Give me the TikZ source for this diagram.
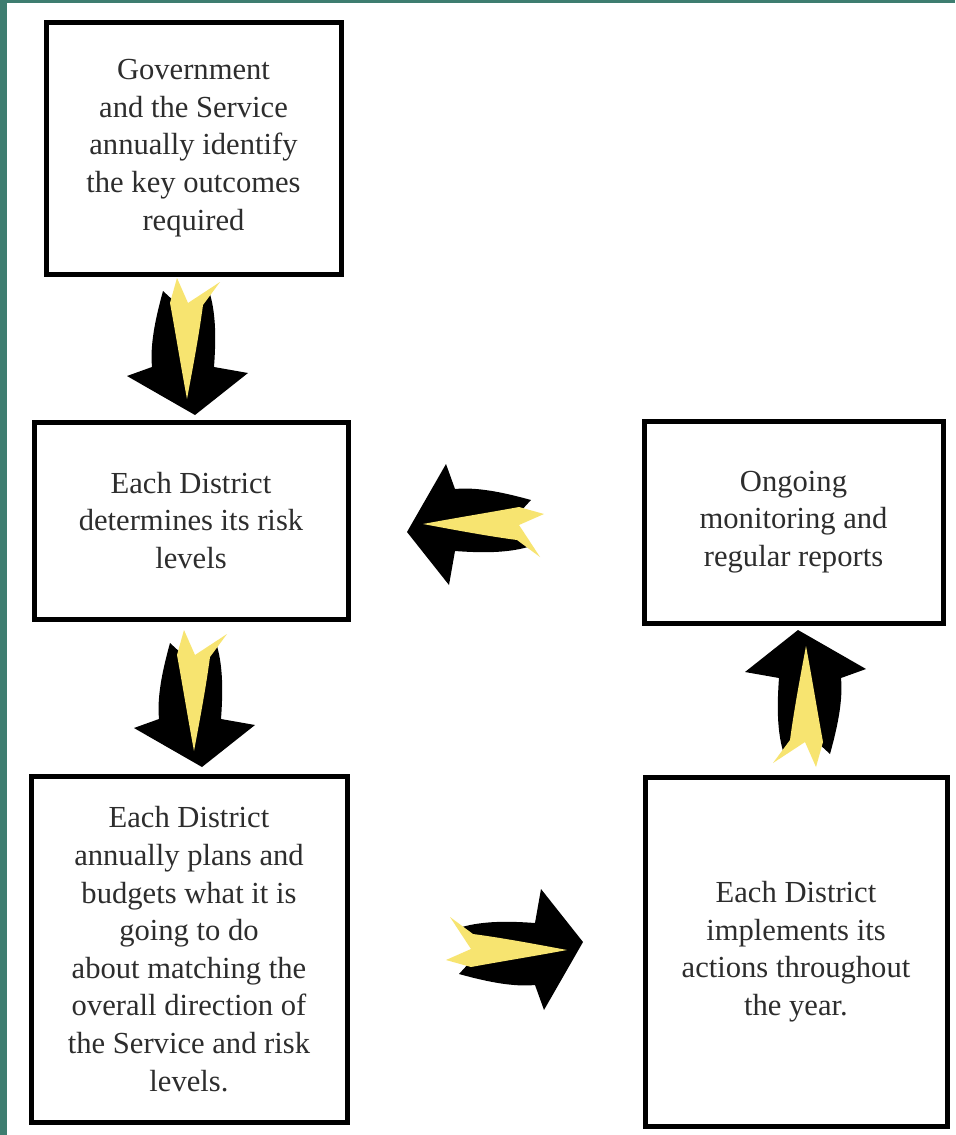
\documentclass[tikz,border=0pt]{standalone}
\usepackage{fontspec}
\setmainfont{Liberation Serif}
\usetikzlibrary{calc,positioning}
\definecolor{sidebar}{RGB}{62,125,112}
\definecolor{flameyellow}{RGB}{247,228,112}
\definecolor{boxtext}{RGB}{45,45,45}

\tikzset{
  stepbox/.style={draw=black, line width=2.5pt, fill=white, inner sep=0pt, outer sep=0pt,
    align=center, text=boxtext, font=\fontsize{15.3}{18.8}\selectfont},
  flamearrow/.pic={
    \fill[black] (0,0) -- (53,-42) -- (19,-48) .. controls (21,-75) and (21,-100) .. (15,-121)
      -- (-6,-100) -- (-32,-124) .. controls (-40,-95) and (-45,-70) .. (-43,-48) -- (-68,-39) -- cycle;
    \fill[flameyellow] (-8,-16) .. controls (-14,-48) and (-20,-85) .. (-25,-112) -- (-18,-137)
      -- (-7,-112) -- (25,-133) -- (8,-110) .. controls (4,-80) and (-2,-48) .. (-8,-16) -- cycle;
  }
}

\begin{document}
\begin{tikzpicture}[x=0.5pt, y=-0.5pt]
\useasboundingbox (0,0) rectangle (955,1135);
\fill[white] (0,0) rectangle (955,1135);
\fill[sidebar] (0,0) rectangle (7,1135);
\fill[sidebar] (0,0) rectangle (955,2.5);

% left column
\node[stepbox, minimum width=147.5pt, minimum height=126pt] (gov) at (193.5,148)
  {Government\\and the Service\\annually identify\\the key outcomes\\required};
\node[stepbox, minimum width=157pt, minimum height=98.5pt] (risk) at (191,520.5)
  {Each District\\determines its risk\\levels};
\node[stepbox, minimum width=158pt, minimum height=173pt] (plan) at (189,949)
  {Each District\\annually plans and\\budgets what it is\\going to do\\about matching the\\overall direction of\\the Service and risk\\levels.};

% right column
\node[stepbox, minimum width=149.5pt, minimum height=101pt] (monitor) at (793.5,522)
  {Ongoing\\monitoring and\\regular reports};
\node[stepbox, minimum width=151pt, minimum height=174.5pt] (impl) at (796,951.5)
  {Each District\\implements its\\actions throughout\\the year.};

% cycle arrows
\pic at ($(risk.north)+(4,-7)$) {flamearrow};
\pic at ($(plan.north)+(13,-9)$) {flamearrow};
\pic[rotate=90] at ($(impl.west)+(-62,-9.5)$) {flamearrow};
\pic[rotate=180] at ($(monitor.south)+(4.5,7)$) {flamearrow};
\pic[rotate=-90] at ($(risk.east)+(59,11.5)$) {flamearrow};
\end{tikzpicture}
\end{document}
